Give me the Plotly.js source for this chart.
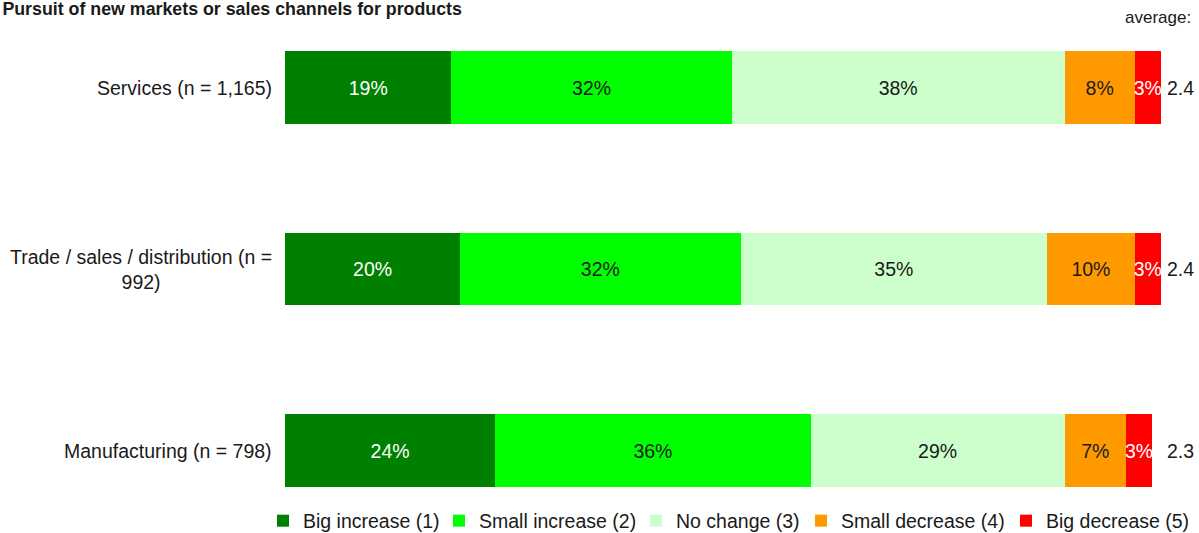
<!DOCTYPE html>
<html>
<head>
<meta charset="utf-8">
<script src="https://cdn.plot.ly/plotly-3.0.1.min.js"></script>
<style>html,body{margin:0;padding:0;background:#fff;}#chart{width:1199px;height:533px;}</style>
</head>
<body>
<div id="chart"></div>
<script>
// Categories from bottom to top
const categories = ["Manufacturing (n = 798)", "Trade / sales / distribution (n =<br>992)", "Services (n = 1,165)"];
const seriesNames = ["Big increase (1)", "Small increase (2)", "No change (3)", "Small decrease (4)", "Big decrease (5)"];
const bigIncrease = [24, 20, 19];
const smallIncrease = [36, 32, 32];
const noChange = [29, 35, 38];
const smallDecrease = [7, 10, 8];
const bigDecrease = [3, 3, 3];
const averages = ["2.3", "2.4", "2.4"];

const colors = ["#008000", "#00FF00", "#CCFFCC", "#FF9900", "#FF0000"];
const textColors = ["#ffffff", "#1a1a1a", "#1a1a1a", "#1a1a1a", "#ffffff"];
const series = [bigIncrease, smallIncrease, noChange, smallDecrease, bigDecrease];
const legendX = [273, 449, 646, 811, 1016]; // pixel left of each legend entry
const FONT = "Liberation Sans, Arial, sans-serif";
const FS = 19.5;
const W = 1199, H = 533;

const legendIds = ["legend", "legend2", "legend3", "legend4", "legend5"];

const traces = series.map((vals, i) => ({
  type: "bar",
  orientation: "h",
  name: seriesNames[i],
  legend: legendIds[i],
  x: vals,
  y: categories,
  marker: {color: colors[i], line: {width: 0}},
  text: vals.map(v => v + "%"),
  textposition: "inside",
  insidetextanchor: "middle",
  textangle: 0,
  constraintext: "none",
  textfont: {family: FONT, size: FS, color: textColors[i]},
  hoverinfo: "none"
}));

const annotations = [];
categories.forEach((c, i) => {
  annotations.push({
    xref: "paper", yref: "y", x: 0, y: c, xanchor: "right", yanchor: "middle",
    xshift: -11, text: c, showarrow: false, align: "center",
    font: {family: FONT, size: FS, color: "#1a1a1a"}
  });
  annotations.push({
    xref: "paper", yref: "y", x: 1, y: c, xanchor: "left", yanchor: "middle",
    xshift: 4, text: averages[i], showarrow: false,
    font: {family: FONT, size: FS, color: "#1a1a1a"}
  });
});
annotations.push({
  xref: "paper", yref: "paper", x: 1, y: 1.0486, xanchor: "right", yanchor: "middle",
  xshift: 32, text: "average:", showarrow: false,
  font: {family: FONT, size: 17, color: "#1a1a1a"}
});

const layout = {
  width: W, height: H,
  margin: {l: 285, r: 38, t: 40, b: 40, autoexpand: false},
  paper_bgcolor: "#ffffff", plot_bgcolor: "#ffffff",
  barmode: "stack",
  bargap: 0.6,
  uniformtext: {minsize: FS, mode: "show"},
  title: {
    text: "<b>Pursuit of new markets or sales channels for products</b>",
    x: 0.002, xanchor: "left", xref: "container",
    y: 0.983, yanchor: "middle", yref: "container",
    font: {family: FONT, size: 17.8, color: "#1a1a1a"}
  },
  xaxis: {range: [0, 100], visible: false, fixedrange: true},
  yaxis: {
    type: "category", categoryorder: "array", categoryarray: categories,
    range: [-0.234, 2.262], showticklabels: false, showgrid: false,
    zeroline: false, showline: false, ticks: ""
  },
  showlegend: true,
  annotations: annotations
};

legendIds.forEach((id, i) => {
  layout[id] = {
    orientation: "h", x: legendX[i] / W, xref: "container", xanchor: "left",
    y: 12 / H, yref: "container", yanchor: "middle",
    font: {family: FONT, size: FS, color: "#1a1a1a"},
    itemclick: false, itemdoubleclick: false,
    itemwidth: 30, indentation: -10, bgcolor: "rgba(0,0,0,0)"
  };
});

Plotly.newPlot("chart", traces, layout, {displayModeBar: false, staticPlot: true});
</script>
</body>
</html>
